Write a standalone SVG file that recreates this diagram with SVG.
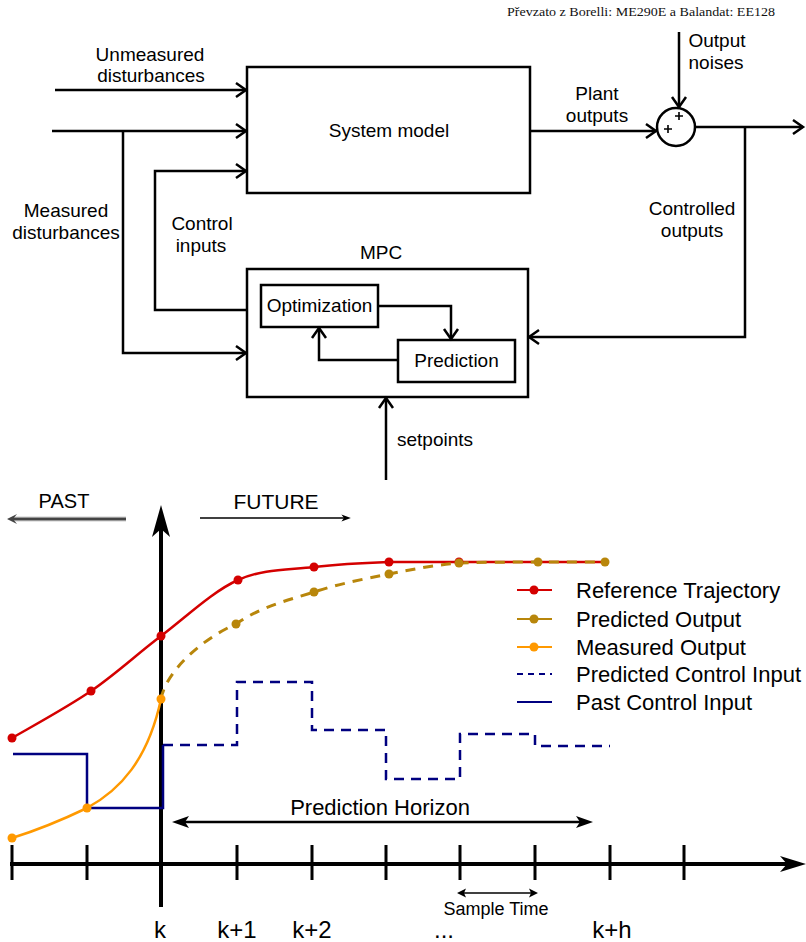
<svg xmlns="http://www.w3.org/2000/svg" width="806" height="942" viewBox="0 0 806 942">
<style>
  .t { font-family: "Liberation Sans", Arial, sans-serif; fill: #000; }
  .lbl { font-size: 19px; text-anchor: middle; }
  .leg { font-size: 22px; }
  .tick { font-size: 24px; text-anchor: middle; }
  .box { fill: #fff; stroke: #000; stroke-width: 2.5; }
  .wire { fill: none; stroke: #000; stroke-width: 2.5; }
  .red { fill: none; stroke: #d40000; stroke-width: 2.5; }
  .gold { fill: none; stroke: #b8860b; stroke-width: 3; stroke-dasharray: 10 8; }
  .orange { fill: none; stroke: #ff9900; stroke-width: 2.5; }
  .navy { fill: none; stroke: #000080; stroke-width: 2.5; }
  .navyd { fill: none; stroke: #000080; stroke-width: 2.5; stroke-dasharray: 10 7; }
</style>
<defs>
  <marker id="chev" markerUnits="userSpaceOnUse" markerWidth="14" markerHeight="18" viewBox="-12 -9 14 18" refX="0" refY="0" orient="auto" overflow="visible">
    <path d="M-10,-7 L0,0 L-10,7" fill="none" stroke="#000" stroke-width="2.5"/>
  </marker>
  <marker id="vhead" markerUnits="userSpaceOnUse" markerWidth="36" markerHeight="20" viewBox="-34 -10 36 20" refX="-24" refY="0" orient="auto" overflow="visible">
    <path d="M0,0 L-32,-9 L-24,0 L-32,9 Z" fill="#000"/>
  </marker>
  <marker id="hhead" markerUnits="userSpaceOnUse" markerWidth="30" markerHeight="18" viewBox="-28 -9 30 18" refX="-19" refY="0" orient="auto" overflow="visible">
    <path d="M0,0 L-26,-8 L-19,0 L-26,8 Z" fill="#000"/>
  </marker>
  <marker id="phead" markerUnits="userSpaceOnUse" markerWidth="20" markerHeight="14" viewBox="-18 -7 20 14" refX="-13" refY="0" orient="auto-start-reverse" overflow="visible">
    <path d="M0,0 L-17,-6 L-13,0 L-17,6 Z" fill="#000"/>
  </marker>
  <marker id="shead" markerUnits="userSpaceOnUse" markerWidth="12" markerHeight="10" viewBox="-10 -5 12 10" refX="-7" refY="0" orient="auto-start-reverse" overflow="visible">
    <path d="M0,0 L-9,-4.5 L-7,0 L-9,4.5 Z" fill="#000"/>
  </marker>
  <marker id="fhead" markerUnits="userSpaceOnUse" markerWidth="12" markerHeight="10" viewBox="-12 -5 14 10" refX="-8" refY="0" orient="auto" overflow="visible">
    <path d="M0,0 L-11,-4 L-8,0 L-11,4 Z" fill="#000"/>
  </marker>
  <marker id="pasthead" markerUnits="userSpaceOnUse" markerWidth="12" markerHeight="12" viewBox="-11 -6 12 12" refX="-6" refY="0" orient="auto" overflow="visible">
    <path d="M0,0 L-10,-5 L-6,0 L-10,5 Z" fill="#444"/>
  </marker>
</defs>

<!-- credit -->
<text x="507" y="16" font-family="'Liberation Serif', 'DejaVu Serif', serif" font-size="13" textLength="268" lengthAdjust="spacingAndGlyphs" fill="#111" style="font-variant-numeric: oldstyle-nums">Převzato z Borelli: ME290E a Balandat: EE128</text>

<g id="system-model">
  <rect class="box" x="247" y="67" width="283" height="126"/>
  <text class="t lbl" x="389" y="137">System model</text>
</g>

<g id="mpc">
  <rect class="box" x="247" y="269" width="281" height="128"/>
  <text class="t lbl" x="381" y="259">MPC</text>
</g>

<g id="optimization">
  <rect class="box" x="261" y="285" width="117" height="42"/>
  <text class="t lbl" x="319.5" y="312">Optimization</text>
</g>

<g id="prediction">
  <rect class="box" x="398" y="340" width="117" height="42"/>
  <text class="t lbl" x="456.5" y="367">Prediction</text>
</g>

<g id="sum">
  <circle cx="676" cy="127" r="19" fill="#fff" stroke="#000" stroke-width="2.5"/>
  <path d="M664,129 H672 M668,125 V133 M675,116 H683 M679,112 V120" stroke="#000" stroke-width="1.6" fill="none"/>
</g>

<!-- ===== block diagram connectors ===== -->
<g id="connectors">
  <path class="wire" d="M55,90 H246" marker-end="url(#chev)"/>
  <path class="wire" d="M52,131 H246" marker-end="url(#chev)"/>
  <path class="wire" d="M123,131 V353 H246" marker-end="url(#chev)"/>
  <path class="wire" d="M247,310 H155 V171 H246" marker-end="url(#chev)"/>
  <path class="wire" d="M530,131 H656" marker-end="url(#chev)"/>
  <path class="wire" d="M679,32 V107" marker-end="url(#chev)"/>
  <path class="wire" d="M695,127 H803" marker-end="url(#chev)"/>
  <path class="wire" d="M745,127 V337 H529" marker-end="url(#chev)"/>
  <path class="wire" d="M386,480 V398" marker-end="url(#chev)"/>
  <path class="wire" d="M378,306 H451 V339" marker-end="url(#chev)"/>
  <path class="wire" d="M398,360 H319 V328" marker-end="url(#chev)"/>
</g>

<g id="labels-top">
  <text class="t lbl" x="150" y="61">Unmeasured</text>
  <text class="t lbl" x="151" y="82">disturbances</text>
  <text class="t lbl" x="66" y="217">Measured</text>
  <text class="t lbl" x="66" y="239">disturbances</text>
  <text class="t lbl" x="202" y="230">Control</text>
  <text class="t lbl" x="201" y="252">inputs</text>
  <text class="t lbl" x="597" y="100">Plant</text>
  <text class="t lbl" x="597" y="122">outputs</text>
  <text class="t lbl" x="717" y="47">Output</text>
  <text class="t lbl" x="716" y="69">noises</text>
  <text class="t lbl" x="692" y="215">Controlled</text>
  <text class="t lbl" x="692" y="237">outputs</text>
  <text class="t lbl" x="435" y="446">setpoints</text>
</g>

<!-- ===== MPC timeline chart ===== -->
<g id="chart">
  <!-- past / future -->
  <text class="t" x="64" y="508" font-size="20" text-anchor="middle">PAST</text>
  <text class="t" x="276" y="509" font-size="21" text-anchor="middle">FUTURE</text>
  <path d="M126,519 H13" stroke="#999" stroke-width="4.5" fill="none"/>
  <path d="M126,519 H13" stroke="#444" stroke-width="1.8" fill="none" marker-end="url(#pasthead)"/>
  <path d="M200,518 H344" stroke="#000" stroke-width="1.5" fill="none" marker-end="url(#fhead)"/>

  <!-- axes -->
  <path d="M161,907 V529" stroke="#000" stroke-width="4" fill="none" marker-end="url(#vhead)"/>
  <path d="M10,864 H787" stroke="#000" stroke-width="4" fill="none" marker-end="url(#hhead)"/>
  <path d="M12,845 V880 M87,845 V880 M237,845 V880 M312,845 V880 M386,845 V880 M460,845 V880 M535,845 V880 M610,845 V880 M684,845 V880" stroke="#000" stroke-width="3" fill="none"/>

  <!-- control inputs -->
  <path class="navy" d="M13,754 H87 V808 H163 V745"/>
  <path class="navyd" d="M163,745 H237 V682 H312 V730 H386 V779 H460 V734 H535 V746 H610"/>

  <!-- reference trajectory -->
  <path class="red" d="M12,738 C25.2,730.2 66.2,708 91,691 C115.8,674 136.5,654.5 161,636 C185.5,617.5 212.5,591.5 238,580 C263.5,568.5 288.8,570 314,567 C339.2,564 364.8,562.8 389,562 L605,562"/>
  <!-- predicted output -->
  <path class="gold" d="M161,699 C166,672 200,640 236,624 C261.5,606.2 288.5,600.3 314,592 C339.5,583.7 364.8,578.8 389,574 C413.2,569.2 434.2,565 459,563 C483.8,562.2 511,562 538,562 L605,562"/>
  <!-- measured output -->
  <path class="orange" d="M12,838 C38,830 62,820 87,808 C120,790 148,760 161,699"/>

  <g fill="#d40000">
    <circle cx="12" cy="738" r="4.5"/><circle cx="91" cy="691" r="4.5"/><circle cx="161" cy="636" r="4.5"/>
    <circle cx="238" cy="580" r="4.5"/><circle cx="314" cy="567" r="4.5"/><circle cx="389" cy="562" r="4.5"/>
    <circle cx="459" cy="562" r="4.5"/>
  </g>
  <g fill="#b8860b">
    <circle cx="236" cy="624" r="4.5"/><circle cx="314" cy="592" r="4.5"/><circle cx="389" cy="574" r="4.5"/>
    <circle cx="459" cy="563" r="4.5"/><circle cx="538" cy="562" r="4.5"/><circle cx="605" cy="562" r="4.5"/>
  </g>
  <g fill="#ff9900">
    <circle cx="12" cy="838" r="4.5"/><circle cx="87" cy="808" r="4.5"/><circle cx="161" cy="699" r="4.5"/>
  </g>

  <!-- legend -->
  <g id="legend">
    <path d="M517,590 H552" stroke="#d40000" stroke-width="2"/><circle cx="534" cy="590" r="4.5" fill="#d40000"/>
    <path d="M517,619 H552" stroke="#b8860b" stroke-width="2"/><circle cx="534" cy="619" r="4.5" fill="#b8860b"/>
    <path d="M517,647 H552" stroke="#ff9900" stroke-width="2"/><circle cx="534" cy="647" r="4.5" fill="#ff9900"/>
    <path d="M517,674 H552" stroke="#000080" stroke-width="2" stroke-dasharray="6 5"/>
    <path d="M517,702 H552" stroke="#000080" stroke-width="2"/>
    <text class="t leg" x="576" y="598">Reference Trajectory</text>
    <text class="t leg" x="576" y="627">Predicted Output</text>
    <text class="t leg" x="576" y="655">Measured Output</text>
    <text class="t leg" x="576" y="682">Predicted Control Input</text>
    <text class="t leg" x="576" y="710">Past Control Input</text>
  </g>

  <!-- prediction horizon -->
  <path d="M185,822 H580" stroke="#000" stroke-width="2.5" fill="none" marker-start="url(#phead)" marker-end="url(#phead)"/>
  <text class="t" x="380" y="815" font-size="22" text-anchor="middle">Prediction Horizon</text>

  <!-- sample time -->
  <path d="M464,893 H531" stroke="#000" stroke-width="1.5" fill="none" marker-start="url(#shead)" marker-end="url(#shead)"/>
  <text class="t" x="496" y="915" font-size="18" text-anchor="middle">Sample Time</text>

  <!-- tick labels -->
  <text class="t tick" x="160" y="938">k</text>
  <text class="t tick" x="237" y="938">k+1</text>
  <text class="t tick" x="312" y="938">k+2</text>
  <text class="t tick" x="444" y="938">...</text>
  <text class="t tick" x="612" y="938">k+h</text>
</g>
</svg>
